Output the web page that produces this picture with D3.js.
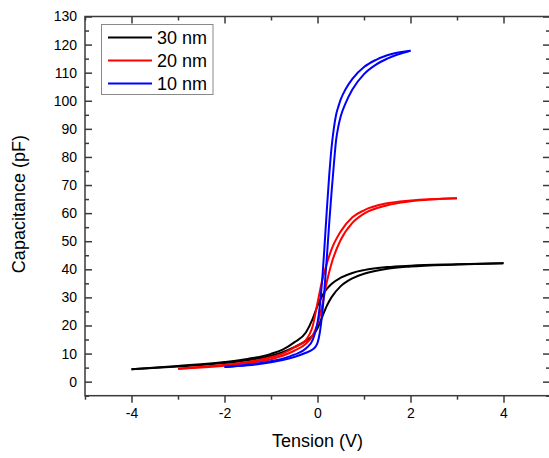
<!DOCTYPE html>
<html><head><meta charset="utf-8">
<script src="https://cdn.jsdelivr.net/npm/d3@7"></script>
<style>body{margin:0;background:#fff}svg{display:block}text{font-family:"Liberation Sans",Arial,sans-serif;fill:#000}</style>
</head><body><svg id="c" width="549" height="458"></svg>
<script>
const seriesNames = ["30 nm", "20 nm", "10 nm"];
const seriesColors = ["#000000", "#ff0000", "#0000ff"];

// 30 nm
const x30 = [-4, -3, -2, -1.5, -1, -0.75, -0.5, -0.25, -0.1, 0, 0.1, 0.2, 0.3, 0.5, 0.75, 1, 1.5, 2, 3, 4];
const up30 = [4.4, 5.6, 7.0, 8.1, 9.9, 11.4, 14.0, 17.5, 22.5, 27, 30.5, 33, 34.8, 37, 38.7, 39.7, 40.8, 41.3, 41.8, 42.2];
const down30 = [4.4, 5.4, 6.6, 7.6, 9.2, 10.5, 12.3, 14.5, 16.5, 19, 23, 27, 30, 34, 36.8, 38.4, 40.2, 41, 41.7, 42.2];

// 20 nm
const x20 = [-3, -2, -1.5, -1, -0.75, -0.5, -0.25, -0.1, 0, 0.1, 0.2, 0.3, 0.5, 0.75, 1, 1.5, 2, 3];
const up20 = [4.6, 6.0, 7.0, 8.7, 10, 12.2, 14.8, 20, 28, 36, 42, 47, 53.5, 58.5, 61, 63.5, 64.5, 65.3];
const down20 = [4.6, 5.7, 6.6, 8.0, 9.2, 11, 13.5, 16.5, 20.5, 27, 35.5, 42, 50.5, 56.5, 59.8, 62.8, 64.2, 65.3];

// 10 nm
const x10 = [-2, -1.5, -1, -0.75, -0.5, -0.25, -0.1, -0.05, 0, 0.05, 0.1, 0.15, 0.2, 0.25, 0.3, 0.35, 0.4, 0.45, 0.5, 0.6, 0.75, 1, 1.25, 1.5, 2];
const up10 = [5.2, 6.0, 7.3, 8.2, 9.6, 11.8, 15, 17.5, 21, 27, 36, 48, 61, 73, 83, 90, 95, 98, 100.5, 104, 107.8, 112, 114.5, 116.2, 117.8];
const down10 = [5.2, 5.8, 6.9, 7.7, 8.8, 10.3, 11.5, 12.3, 13.8, 17.5, 24, 33, 44, 56, 67, 77, 86, 91, 94.5, 99, 104, 109.5, 112.8, 115, 117.8];

const xTicks = [-4, -2, 0, 2, 4];
const yTicks = [0, 10, 20, 30, 40, 50, 60, 70, 80, 90, 100, 110, 120, 130];

const svg = d3.select("#c");
const L = 85, R = 550, T = 16.5, B = 395.7;
const x = d3.scaleLinear().domain([-5, 5]).range([L, R]);
const y = d3.scaleLinear().domain([-5, 130]).range([B, T]);
const axisColor = "#3a3a3a";

const series = [
  {xs: x30, a: up30, b: down30},
  {xs: x20, a: up20, b: down20},
  {xs: x10, a: up10, b: down10}
];
const line = d3.line().x(d => x(d[0])).y(d => y(d[1])).curve(d3.curveMonotoneX);
const g = svg.append("g");
series.forEach((s, i) => {
  [s.a, s.b].forEach(arr => {
    g.append("path").datum(s.xs.map((v, k) => [v, arr[k]]))
      .attr("d", line).attr("fill", "none")
      .attr("stroke", seriesColors[i]).attr("stroke-width", 2);
  });
});

const fmt = d => String(d);
const minorX = d3.range(-5, 5.01, 1);
const minorY = d3.range(-5, 130.01, 5);
// bottom
svg.append("g").attr("transform", `translate(0,${B})`)
  .call(d3.axisBottom(x).tickValues(xTicks).tickSize(7).tickPadding(5).tickFormat(fmt));
svg.append("g").attr("transform", `translate(0,${B})`)
  .call(d3.axisBottom(x).tickValues(minorX.filter(v => v % 2 !== 0)).tickSize(4).tickFormat(""));
// top
svg.append("g").attr("transform", `translate(0,${T})`)
  .call(d3.axisBottom(x).tickValues(xTicks).tickSize(7).tickFormat(""));
svg.append("g").attr("transform", `translate(0,${T})`)
  .call(d3.axisBottom(x).tickValues(minorX.filter(v => v % 2 !== 0)).tickSize(4).tickFormat(""));
// left
svg.append("g").attr("transform", `translate(${L},0)`)
  .call(d3.axisRight(y).tickValues(yTicks).tickSize(7).tickFormat(""));
svg.append("g").attr("transform", `translate(${L},0)`)
  .call(d3.axisRight(y).tickValues(minorY.filter(v => v % 10 !== 0)).tickSize(4).tickFormat(""));
svg.append("g").attr("transform", `translate(${L},0)`)
  .call(d3.axisLeft(y).tickValues(yTicks).tickSize(0).tickPadding(8).tickFormat(fmt));
// right
svg.append("g").attr("transform", `translate(${R},0)`)
  .call(d3.axisLeft(y).tickValues(yTicks).tickSize(7).tickFormat(""));
svg.append("g").attr("transform", `translate(${R},0)`)
  .call(d3.axisLeft(y).tickValues(minorY.filter(v => v % 10 !== 0)).tickSize(4).tickFormat(""));

svg.selectAll(".domain").remove();
svg.selectAll(".tick line").attr("stroke", axisColor).attr("stroke-width", 1.5);
svg.selectAll(".tick text").style("font-size", "14px").style("font-family", '"Liberation Sans",Arial,sans-serif').attr("fill", "#000");
svg.append("rect").attr("x", L).attr("y", T).attr("width", R - L).attr("height", B - T)
  .attr("fill", "none").attr("stroke", axisColor).attr("stroke-width", 1.5);

// titles
svg.append("text").attr("x", x(0)).attr("y", 447).attr("text-anchor", "middle")
  .style("font-size", "18px").text("Tension (V)");
svg.append("text").attr("transform", `translate(25,${(T + B) / 2 - 2}) rotate(-90)`).attr("text-anchor", "middle")
  .style("font-size", "18px").text("Capacitance (pF)");

// legend
const lg = svg.append("g");
lg.append("rect").attr("x", 101.5).attr("y", 24.5).attr("width", 111.5).attr("height", 70)
  .attr("fill", "#fff").attr("stroke", "#888").attr("stroke-width", 1);
seriesNames.forEach((n, i) => {
  const cy = 37.5 + i * 23;
  lg.append("line").attr("x1", 108).attr("x2", 152).attr("y1", cy).attr("y2", cy)
    .attr("stroke", seriesColors[i]).attr("stroke-width", 2);
  lg.append("text").attr("x", 157).attr("y", cy + 6.5).style("font-size", "18px").text(n);
});
</script></body></html>
